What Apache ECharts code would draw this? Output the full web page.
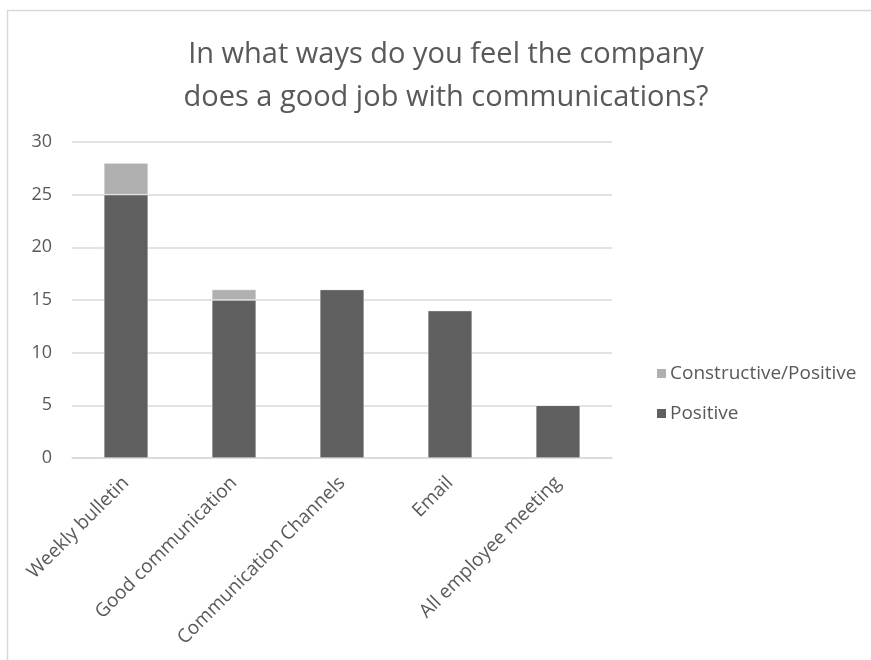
<!DOCTYPE html>
<html><head><meta charset="utf-8">
<script src="https://cdn.jsdelivr.net/npm/echarts@6/dist/echarts.min.js"></script>
<style>html,body{margin:0;padding:0;background:#fff}#c{width:871px;height:660px}</style>
</head><body><div id="c"></div>
<script>
const categories = ["Weekly bulletin","Good communication","Communication Channels","Email","All employee meeting"];
const positive = [25, 15, 16, 14, 5];
const constructivePositive = [3, 1, 0, 0, 0];
const yTicks = [0, 5, 10, 15, 20, 25, 30];

const font = "Open Sans";
const txt = "#595959";
const chart = echarts.init(document.getElementById('c'));
chart.setOption({
  animation: false,
  textStyle: {fontFamily: font},
  graphic: [{type:'rect', shape:{x:7.5,y:10.5,width:880,height:680}, style:{fill:null, stroke:'#d9d9d9', lineWidth:1.5}, silent:true}],
  title: {
    text: "In what ways do you feel the company\ndoes a good job with communications?",
    left: 441, textAlign: 'center', top: 28,
    textStyle: {fontFamily: font, fontSize: 29, fontWeight: 'normal', color: txt, lineHeight: 43}
  },
  legend: {
    orient: 'vertical', left: 650, top: 359, itemGap: 21,
    itemWidth: 11, itemHeight: 11, icon: 'rect',
    data: ["Constructive/Positive", "Positive"],
    textStyle: {fontFamily: font, fontSize: 19, color: txt, padding:[0,0,0,-2]}
  },
  grid: {left: 72, right: 259, top: 142, bottom: 202},
  xAxis: {
    type: 'category', data: categories,
    axisTick: {show: false},
    axisLine: {lineStyle: {color: '#d9d9d9', width: 1.5}},
    axisLabel: {rotate: 45, color: txt, fontSize: 19, fontFamily: font, margin: 22, interval: 0}
  },
  yAxis: {
    type: 'value', min: yTicks[0], max: yTicks[yTicks.length-1], interval: 5,
    axisLine: {show: false}, axisTick: {show: false},
    splitLine: {lineStyle: {color: '#d9d9d9', width: 1.5}},
    axisLabel: {color: txt, fontSize: 18, fontFamily: font, margin: 20}
  },
  series: [
    {name: "Positive", type: 'bar', stack: 's', data: positive, barWidth: '41%',
     itemStyle: {color: '#5f5f5f', borderColor: '#ffffff', borderWidth: 0.5}},
    {name: "Constructive/Positive", type: 'bar', stack: 's', data: constructivePositive, barWidth: '41%',
     itemStyle: {color: '#b0b0b0', borderColor: '#ffffff', borderWidth: 0.5}}
  ]
});
</script></body></html>
